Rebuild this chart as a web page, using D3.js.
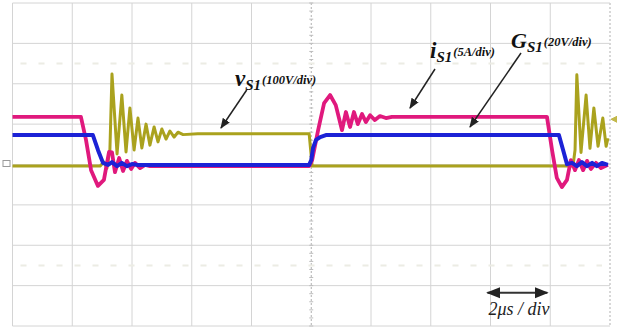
<!DOCTYPE html>
<html>
<head>
<meta charset="utf-8">
<script src="https://cdn.jsdelivr.net/npm/d3@7"></script>
<style>
  html, body { margin: 0; padding: 0; background: #fff; }
  svg { display: block; }
  .lbl { font-family: "Liberation Serif", "DejaVu Serif", serif; font-weight: bold; font-style: italic; fill: #111; }
</style>
</head>
<body>
<div id="chart"></div>
<script>
// time in microseconds (2 us/div), value in divisions from screen centre
const gridTimes = [0, 2, 4, 6, 8, 10, 12, 14, 16, 18, 20];
const gridDivs = [-4, -3, -2, -1, 0, 1, 2, 3, 4];
const cursorDivs = [2.5, -2.5];

// v_S1 (100V/div) olive
const vS1 = [
  [0, -0.04], [2.93, -0.04], [3.06, 0.06], [3.16, -0.09], [3.26, 0.36], [3.33, 2.24],
  [3.50, 0.26], [3.66, 1.72], [3.80, 0.31], [3.93, 1.40], [4.07, 0.36], [4.20, 1.15],
  [4.33, 0.41], [4.47, 1.00], [4.60, 0.48], [4.74, 0.93], [4.87, 0.56], [5.00, 0.88],
  [5.14, 0.63], [5.27, 0.83], [5.41, 0.68], [5.54, 0.80], [5.71, 0.74], [6.2, 0.76],
  [9.93, 0.76], [10.03, -0.04], [18.76, -0.04], [18.83, 0.36], [18.89, 2.22],
  [19.03, 0.30], [19.20, 1.72], [19.33, 0.40], [19.46, 1.40], [19.60, 0.45],
  [19.76, 1.15], [19.87, 0.45], [19.93, 0.65]
];

// i_S1 (5A/div) magenta
const iS1 = [
  [0, 1.18], [2.29, 1.18], [2.46, 0.61], [2.63, -0.14], [2.86, -0.53], [3.06, -0.38],
  [3.23, 0.31], [3.33, 0.30], [3.43, -0.19], [3.57, 0.16], [3.70, -0.16], [3.83, 0.09],
  [3.97, -0.11], [4.10, 0.04], [4.27, -0.09], [4.44, -0.01], [4.6, -0.04],
  [9.93, -0.04], [10.03, 0.11], [10.23, 0.85], [10.43, 1.52], [10.63, 1.72],
  [10.82, 1.47], [11.03, 0.85], [11.16, 1.30], [11.30, 0.93], [11.43, 1.30],
  [11.56, 1.00], [11.70, 1.25], [11.83, 1.05], [11.97, 1.22], [12.13, 1.10],
  [12.30, 1.20], [12.50, 1.15], [12.7, 1.18], [17.89, 1.18], [18.06, 0.36],
  [18.22, -0.33], [18.39, -0.56], [18.56, -0.38], [18.69, 0.11], [18.83, -0.14],
  [18.96, 0.11], [19.10, -0.14], [19.23, 0.09], [19.36, -0.11], [19.53, 0.04],
  [19.70, -0.09], [19.93, -0.01]
];

// G_S1 (20V/div) blue
const gS1 = [
  [0, 0.73], [2.69, 0.73], [2.86, 0.36], [3.03, 0.04], [3.20, -0.01], [3.33, 0.06],
  [3.50, -0.04], [3.66, 0.04], [3.83, -0.04], [4.00, 0.01], [4.2, -0.01],
  [9.93, -0.01], [10.00, 0.11], [10.06, 0.41], [10.16, 0.61], [10.30, 0.68],
  [10.49, 0.73], [18.29, 0.73], [18.43, 0.36], [18.56, 0.01], [18.73, 0.04],
  [18.89, -0.04], [19.06, 0.06], [19.23, -0.04], [19.40, 0.04], [19.56, -0.04],
  [19.73, 0.04], [19.93, -0.01]
];

const width = 617, height = 328;
const plot = { left: 12.5, right: 610, top: 3, bottom: 326 };

const svg = d3.select("#chart").append("svg")
  .attr("width", width)
  .attr("height", height);

const x = d3.scaleLinear().domain([0, 20]).range([plot.left, plot.right]);
const y = d3.scaleLinear().domain([-4, 4]).range([plot.bottom, plot.top]);

// grid
const grid = svg.append("g");
grid.selectAll(".vg").data(gridTimes).enter().append("line")
  .attr("x1", d => x(d)).attr("x2", d => x(d))
  .attr("y1", plot.top).attr("y2", plot.bottom)
  .attr("stroke", d => (d === 10 || d === 20) ? "#b0b0b0" : "#d4d4d4")
  .attr("stroke-dasharray", d => (d === 10 || d === 20) ? "2,2" : null)
  .attr("stroke-width", 1);
grid.selectAll(".hg").data(gridDivs).enter().append("line")
  .attr("x1", plot.left).attr("x2", plot.right)
  .attr("y1", d => y(d)).attr("y2", d => y(d))
  .attr("stroke", "#d4d4d4")
  .attr("stroke-width", 1);

// minor ticks on the centre vertical line
const minor = d3.range(-4, 4.01, 0.2);
grid.selectAll(".mt").data(minor).enter().append("line")
  .attr("x1", x(10) - 2).attr("x2", x(10) + 2)
  .attr("y1", d => y(d)).attr("y2", d => y(d))
  .attr("stroke", "#bdbdbd");

// faint cursor rows
grid.selectAll(".cur").data(cursorDivs).enter().append("line")
  .attr("x1", plot.left + 8).attr("x2", plot.right - 8)
  .attr("y1", d => y(d)).attr("y2", d => y(d))
  .attr("stroke", "#ececE4")
  .attr("stroke-width", 2)
  .attr("stroke-dasharray", "6,12");

// traces
const line = d3.line().x(d => x(d[0])).y(d => y(d[1]));
const traces = [
  { data: vS1, color: "#aaa21e", w: 3 },
  { data: iS1, color: "#e0197d", w: 3.8 },
  { data: gS1, color: "#1c22d6", w: 4 }
];
svg.append("g").selectAll("path").data(traces).enter().append("path")
  .attr("d", d => line(d.data))
  .attr("fill", "none")
  .attr("stroke", d => d.color)
  .attr("stroke-width", d => d.w)
  .attr("stroke-linejoin", "round");

// channel markers
svg.append("rect")
  .attr("x", 3).attr("y", y(0) - 4).attr("width", 7).attr("height", 6)
  .attr("fill", "none").attr("stroke", "#9a9a9a").attr("stroke-width", 1);
svg.append("path")
  .attr("d", `M${plot.right + 1},${y(1.12)} l6,-3 l0,6 z M${plot.right + 6},${y(1.12)} h5`)
  .attr("fill", "#c2b84a").attr("stroke", "#c2b84a").attr("stroke-width", 1);

// arrow heads
const defs = svg.append("defs");
defs.append("marker").attr("id", "ah")
  .attr("viewBox", "0 0 10 10").attr("refX", 9).attr("refY", 5)
  .attr("markerWidth", 7).attr("markerHeight", 7).attr("orient", "auto-start-reverse")
  .append("path").attr("d", "M0,1 L10,5 L0,9 z").attr("fill", "#222");

// labels
const labels = [
  { main: "v", sub: "S1", unit: "(100V/div)", x: 235, y: 86, from: [246.7, 90], to: [221, 128] },
  { main: "i", sub: "S1", unit: "(5A/div)", x: 430, y: 58, from: [435, 69], to: [410, 108] },
  { main: "G", sub: "S1", unit: "(20V/div)", x: 511, y: 48, from: [521, 53], to: [470, 127] }
];
labels.forEach(l => {
  const t = svg.append("text").attr("class", "lbl").attr("x", l.x).attr("y", l.y);
  t.append("tspan").attr("font-size", l.main === "G" ? 22 : 23).text(l.main);
  t.append("tspan").attr("font-size", 15).attr("dy", 4).text(l.sub);
  t.append("tspan").attr("font-size", 12.5).attr("dy", -6).attr("dx", 1).text(l.unit);
  svg.append("line")
    .attr("x1", l.from[0]).attr("y1", l.from[1])
    .attr("x2", l.to[0]).attr("y2", l.to[1])
    .attr("stroke", "#222").attr("stroke-width", 1.5)
    .attr("marker-end", "url(#ah)");
});

// time scale indicator
svg.append("line")
  .attr("x1", x(15.9)).attr("x2", x(17.9))
  .attr("y1", 292.7).attr("y2", 292.7)
  .attr("stroke", "#333").attr("stroke-width", 2)
  .attr("marker-start", "url(#ah)").attr("marker-end", "url(#ah)");
svg.append("text")
  .attr("x", 519).attr("y", 315)
  .attr("text-anchor", "middle")
  .attr("font-family", "'Liberation Serif', serif")
  .attr("font-style", "italic")
  .attr("font-size", 18)
  .attr("fill", "#222")
  .text("2\u03bcs / div");
</script>
</body>
</html>
